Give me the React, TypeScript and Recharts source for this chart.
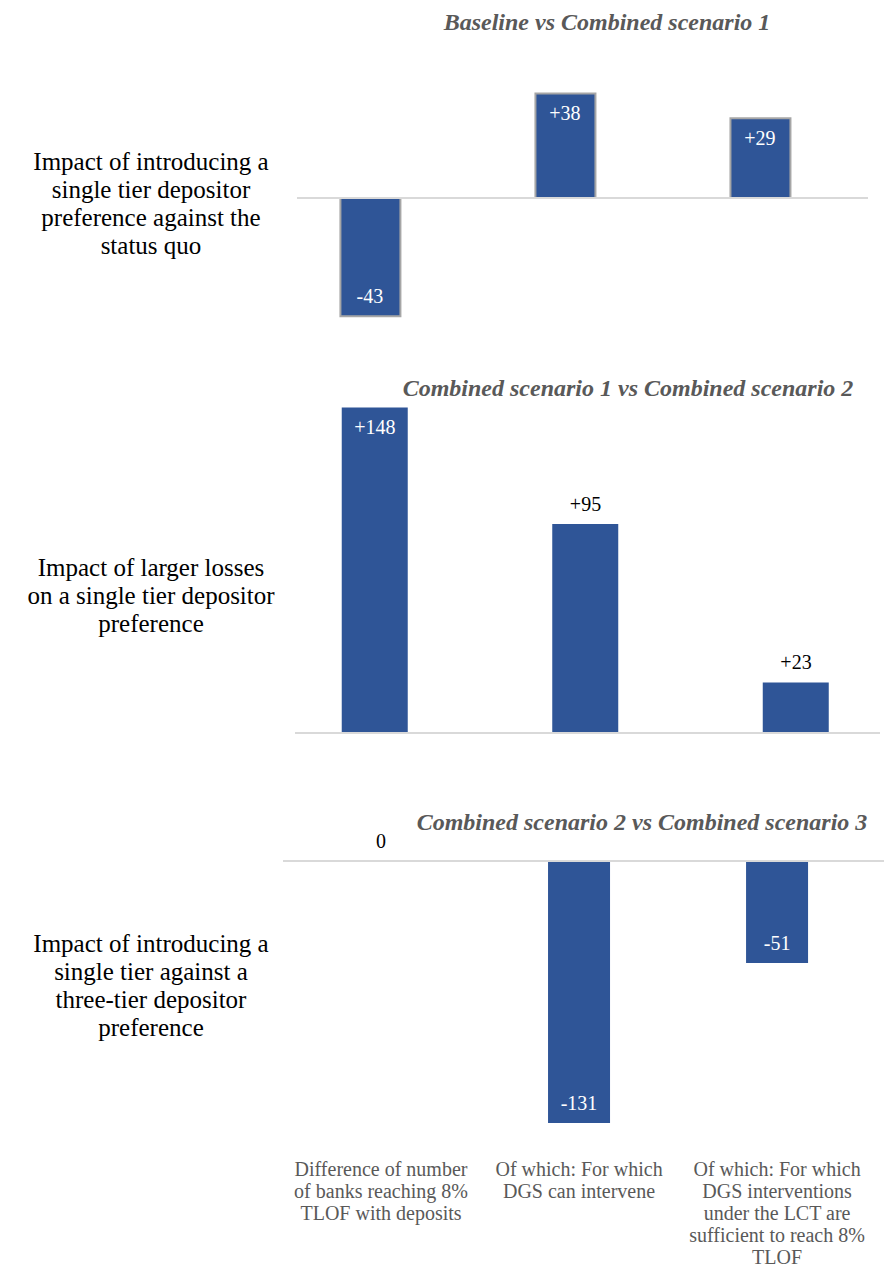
import { Bar, BarChart, ReferenceDot, ReferenceLine, XAxis, YAxis } from "recharts";

const categories = [
  "Difference of number\nof banks reaching 8%\nTLOF with deposits",
  "Of which: For which\nDGS can intervene",
  "Of which: For which\nDGS interventions\nunder the LCT are\nsufficient to reach 8%\nTLOF",
];

const panelTitles = [
  "Baseline vs Combined scenario 1",
  "Combined scenario 1 vs Combined scenario 2",
  "Combined scenario 2 vs Combined scenario 3",
];

const panelLabels = [
  "Impact of introducing a\nsingle tier depositor\npreference against the\nstatus quo",
  "Impact of larger losses\non a single tier depositor\npreference",
  "Impact of introducing a\nsingle tier against a\nthree-tier depositor\npreference",
];

const baselineVsCs1 = [-43, 38, 29];
const cs1VsCs2 = [148, 95, 23];
const cs2VsCs3 = [0, -131, -51];

const BLUE = "#2f5597";
const GREY_TEXT = "#595959";
const FONT = '"Liberation Serif", "Times New Roman", serif';

const fmt = (v: number) => (v > 0 ? `+${v}` : `${v}`);

type PanelProps = {
  values: number[];
  inside: boolean[];
  left: number;
  top: number;
  width: number;
  height: number;
  xDomain: [number, number];
  yDomain: [number, number];
  barSize: number;
  outlined?: boolean;
  showCategories?: boolean;
  axisHeight?: number;
};

function CategoryTick(props: any) {
  const { x, y, payload } = props;
  const lines = (categories[payload.value] ?? "").split("\n");
  return (
    <text textAnchor="middle" fill={GREY_TEXT} fontSize={20} fontFamily={FONT}>
      {lines.map((l, i) => (
        <tspan key={i} x={x} y={y + 36 + i * 22}>
          {l}
        </tspan>
      ))}
    </text>
  );
}

function Panel(p: PanelProps) {
  const data = p.values.map((value, idx) => ({ idx, value }));

  // bar-end label: inside the bar (white) or just beyond it (black)
  const labelAt = (value: number, inside: boolean) => (props: any) => {
    const vb = props.viewBox ?? {};
    const cx = vb.x + (vb.width ?? 0) / 2;
    const cy = vb.y + (vb.height ?? 0) / 2;
    let ty: number;
    if (value >= 0) ty = inside ? cy + 27 : cy - 13;
    else ty = inside ? cy - 13 : cy + 27;
    return (
      <text x={cx} y={ty} textAnchor="middle" fill={inside ? "#ffffff" : "#000000"} fontSize={20} fontFamily={FONT}>
        {fmt(value)}
      </text>
    );
  };

  return (
    <div style={{ position: "absolute", left: p.left, top: p.top }}>
      <BarChart width={p.width} height={p.height} data={data} margin={{ top: 0, right: 0, bottom: 0, left: 0 }}>
        <XAxis
          type="number"
          dataKey="idx"
          domain={p.xDomain}
          allowDataOverflow
          ticks={[0, 1, 2]}
          hide={!p.showCategories}
          height={p.axisHeight ?? 0}
          axisLine={false}
          tickLine={false}
          tickSize={0}
          tickMargin={0}
          interval={0}
          tick={<CategoryTick />}
        />
        <YAxis type="number" domain={p.yDomain} allowDataOverflow hide />
        <ReferenceLine y={0} stroke="#d9d9d9" strokeWidth={2} />
        <Bar
          dataKey="value"
          fill={BLUE}
          barSize={p.barSize}
          stroke={p.outlined ? "#a6a6a6" : undefined}
          strokeWidth={p.outlined ? 2 : 0}
          isAnimationActive={false}
        />
        {data.map((d) => (
          <ReferenceDot
            key={d.idx}
            x={d.idx}
            y={d.value}
            r={1}
            fill="none"
            stroke="none"
            label={labelAt(d.value, p.inside[d.idx])}
          />
        ))}
      </BarChart>
    </div>
  );
}

function Title({ text, cx, top }: { text: string; cx: number; top: number }) {
  return (
    <div
      style={{
        position: "absolute",
        left: cx - 300,
        top,
        width: 600,
        textAlign: "center",
        fontFamily: FONT,
        fontWeight: "bold",
        fontStyle: "italic",
        fontSize: 24,
        lineHeight: "28px",
        color: GREY_TEXT,
        whiteSpace: "nowrap",
      }}
    >
      {text}
    </div>
  );
}

function SideLabel({ text, top }: { text: string; top: number }) {
  return (
    <div
      style={{
        position: "absolute",
        left: 0,
        top,
        width: 302,
        textAlign: "center",
        fontFamily: FONT,
        fontSize: 25,
        lineHeight: "28px",
        color: "#000",
        whiteSpace: "pre-line",
      }}
    >
      {text}
    </div>
  );
}

export default function App() {
  return (
    <div style={{ position: "absolute", left: 0, top: 0, width: 884, height: 1269, background: "#fff" }}>
      <Title text={panelTitles[0]} cx={607} top={8} />
      <SideLabel text={panelLabels[0]} top={148} />
      <Panel
        values={baselineVsCs1}
        inside={[true, true, true]}
        left={297}
        top={40}
        width={571}
        height={300}
        xDomain={[-0.374, 2.554]}
        yDomain={[-51.64, 57.45]}
        barSize={60}
        outlined
      />

      <Title text={panelTitles[1]} cx={628} top={374} />
      <SideLabel text={panelLabels[1]} top={554} />
      <Panel
        values={cs1VsCs2}
        inside={[true, false, false]}
        left={295}
        top={400}
        width={585}
        height={360}
        xDomain={[-0.38, 2.399]}
        yDomain={[-12.27, 151.36]}
        barSize={66}
      />

      <Title text={panelTitles[2]} cx={642} top={808} />
      <SideLabel text={panelLabels[2]} top={930} />
      <Panel
        values={cs2VsCs3}
        inside={[false, true, true]}
        left={283}
        top={830}
        width={601}
        height={439}
        xDomain={[-0.495, 2.54]}
        yDomain={[-139.5, 15.5]}
        barSize={62}
        showCategories
        axisHeight={129}
      />
    </div>
  );
}
